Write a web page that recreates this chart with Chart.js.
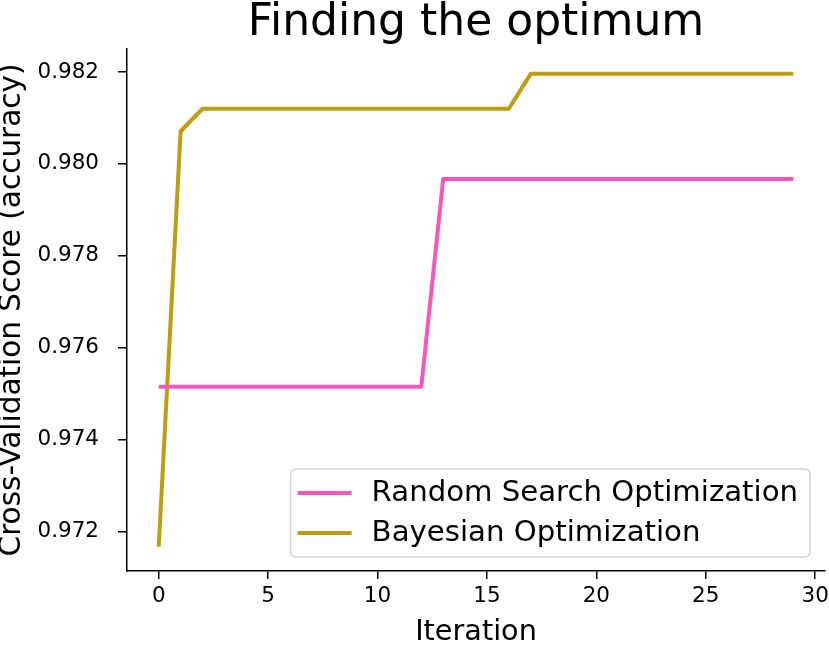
<!DOCTYPE html>
<html><head><meta charset="utf-8">
<script src="https://cdn.jsdelivr.net/npm/chart.js@4.4.0/dist/chart.umd.min.js"></script>
<style>html,body{margin:0;padding:0;background:#fff}#wrap{width:829px;height:645px;position:relative}</style>
</head><body><div id="wrap"><canvas id="c" width="829" height="645"></canvas></div>
<script>
const iterations = [0,1,2,3,4,5,6,7,8,9,10,11,12,13,14,15,16,17,18,19,20,21,22,23,24,25,26,27,28,29];
const randomScores = [0.97515,0.97515,0.97515,0.97515,0.97515,0.97515,0.97515,0.97515,0.97515,0.97515,0.97515,0.97515,0.97515,
  0.97967,0.97967,0.97967,0.97967,0.97967,0.97967,0.97967,0.97967,0.97967,0.97967,0.97967,0.97967,0.97967,0.97967,0.97967,0.97967,0.97967];
const bayesScores = [0.97167,0.98071,0.98120,0.98120,0.98120,0.98120,0.98120,0.98120,0.98120,0.98120,0.98120,0.98120,0.98120,0.98120,0.98120,0.98120,0.98120,
  0.98196,0.98196,0.98196,0.98196,0.98196,0.98196,0.98196,0.98196,0.98196,0.98196,0.98196,0.98196,0.98196];
const seriesNames = ['Random Search Optimization','Bayesian Optimization'];
const chartTitle = 'Finding the optimum';
const xTicks = [0,5,10,15,20,25,30];
const yTicks = [0.972,0.974,0.976,0.978,0.980,0.982];

const FONT = '"DejaVu Sans", "Liberation Sans", sans-serif';
const colors = ['#ff55b8', '#bf9d10'];

const toPts = (ys) => iterations.map((x,i)=>({x:x, y:ys[i]}));

const titlePlugin = {
  id: 'areaTitle',
  afterDraw(chart) {
    const ctx = chart.ctx, ca = chart.chartArea;
    ctx.save();
    ctx.font = '44px ' + FONT;
    ctx.fillStyle = '#000';
    ctx.textAlign = 'center';
    ctx.textBaseline = 'alphabetic';
    ctx.fillText(chartTitle, (ca.left + ca.right) / 2, 35);
    ctx.restore();
  }
};

const legendPlugin = {
  id: 'insideLegend',
  afterDraw(chart) {
    const ctx = chart.ctx, ca = chart.chartArea;
    const fs = 29.2;
    ctx.save();
    ctx.font = fs + 'px ' + FONT;
    let maxW = 0;
    chart.data.datasets.forEach(d => { maxW = Math.max(maxW, ctx.measureText(d.label).width); });
    const padL = 7, lineLen = 54, gap = 20, padR = 12;
    const w = padL + lineLen + gap + maxW + padR;
    const h = 88;
    const right = ca.right - 15, bottom = ca.bottom - 14;
    const left = right - w, top = bottom - h;
    ctx.beginPath();
    if (ctx.roundRect) ctx.roundRect(left, top, w, h, 5); else ctx.rect(left, top, w, h);
    ctx.fillStyle = 'rgba(255,255,255,0.8)';
    ctx.fill();
    ctx.strokeStyle = '#d4d4d4';
    ctx.lineWidth = 1.5;
    ctx.stroke();
    chart.data.datasets.forEach((d, i) => {
      const cy = top + 24 + i * 40;
      ctx.beginPath();
      ctx.moveTo(left + padL, cy);
      ctx.lineTo(left + padL + lineLen, cy);
      ctx.strokeStyle = d.borderColor;
      ctx.lineWidth = 4;
      ctx.stroke();
      ctx.fillStyle = '#000';
      ctx.textBaseline = 'middle';
      ctx.textAlign = 'left';
      ctx.fillText(d.label, left + padL + lineLen + gap, cy);
    });
    ctx.restore();
  }
};

new Chart(document.getElementById('c'), {
  type: 'line',
  data: {
    datasets: [
      { label: seriesNames[0], data: toPts(randomScores), borderColor: colors[0], backgroundColor: colors[0], borderWidth: 4, pointRadius: 0, tension: 0, fill: false, borderJoinStyle: 'round' },
      { label: seriesNames[1], data: toPts(bayesScores), borderColor: colors[1], backgroundColor: colors[1], borderWidth: 4, pointRadius: 0, tension: 0, fill: false, borderJoinStyle: 'round' }
    ]
  },
  options: {
    responsive: false,
    animation: false,
    devicePixelRatio: 1,
    layout: { padding: { left: 0, right: 4, top: 49, bottom: 0 } },
    plugins: {
      legend: { display: false },
      tooltip: { enabled: false },
      title: { display: false }
    },
    scales: {
      x: {
        type: 'linear',
        min: -1.45,
        max: 30.45,
        afterBuildTicks: (s) => { s.ticks = xTicks.map(v => ({ value: v })); },
        afterFit: (s) => { s.height = 74; s.paddingLeft = 0; s.paddingRight = 0; },
        ticks: { color: '#000', font: { family: FONT, size: 21.5 }, padding: 5, maxRotation: 0, autoSkip: false, callback: (v) => String(v) },
        grid: { drawOnChartArea: false, drawTicks: true, tickLength: 8, color: '#000', lineWidth: 1.5 },
        border: { display: true, color: '#000', width: 1.5 },
        title: { display: true, text: 'Iteration', color: '#000', font: { family: FONT, size: 28.7, lineHeight: 0.86 }, padding: 0 }
      },
      y: {
        type: 'linear',
        min: 0.97114,
        max: 0.9825,
        afterBuildTicks: (s) => { s.ticks = yTicks.map(v => ({ value: v })); },
        afterFit: (s) => { s.width = 127; s.paddingTop = 0; s.paddingBottom = 0; },
        ticks: { color: '#000', font: { family: FONT, size: 21.5 }, padding: 19, autoSkip: false, callback: (v) => Number(v).toFixed(3) },
        grid: { drawOnChartArea: false, drawTicks: true, tickLength: 9, color: '#000', lineWidth: 1.5 },
        border: { display: true, color: '#000', width: 1.5 },
        title: { display: true, text: 'Cross-Validation Score (accuracy)', color: '#000', font: { family: FONT, size: 29.5, lineHeight: 0.86 }, padding: 0 }
      }
    }
  },
  plugins: [titlePlugin, legendPlugin]
});
</script>
</body></html>
